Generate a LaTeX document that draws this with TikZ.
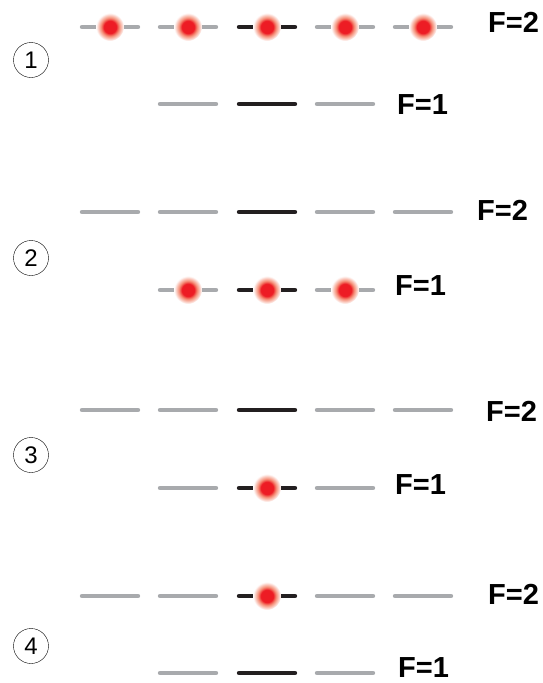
\documentclass[tikz,border=0pt]{standalone}
\usepackage{fontspec}
\setmainfont{Liberation Sans}
\usepackage{tikz}
\usetikzlibrary{positioning}

\definecolor{lvlgray}{RGB}{168,170,173}
\definecolor{lvlblack}{RGB}{35,31,32}
\definecolor{atomred}{RGB}{237,28,36}
\definecolor{glowred}{RGB}{242,110,80}
\pgfdeclareradialshading{atomglow}{\pgfpoint{0cm}{0cm}}{%
  color(0bp)=(atomred); color(11bp)=(atomred);
  color(16bp)=(glowred!80!white); color(25bp)=(white); color(50bp)=(white)}

\begin{document}
\begin{tikzpicture}[x=1pt, y=-1pt]
    \tikzstyle{lvl}=[line width=4.4pt, line cap=round, lvlgray]
    \tikzstyle{mid}=[lvl, lvlblack]
    \tikzstyle{atm}=[circle, inner sep=0pt, minimum size=28pt, shading=atomglow]
    \tikzstyle{num}=[draw, circle, thin, inner sep=0pt, minimum size=35pt, font=\fontsize{24}{24}\selectfont]
    \tikzstyle{flbl}=[anchor=west, inner sep=0pt, font=\fontsize{29}{29}\bfseries\selectfont]
    \useasboundingbox (0,0) rectangle (542,683);
    % level heights: F=2 / F=1 of each step
    \coordinate (up1) at (0,27);  \coordinate (lo1) at (0,104);
    \coordinate (up2) at (0,212); \coordinate (lo2) at (0,290);
    \coordinate (up3) at (0,410); \coordinate (lo3) at (0,488);
    \coordinate (up4) at (0,596); \coordinate (lo4) at (0,673);
    \foreach \s in {1,2,3,4}{
      % F=2 sublevels
      \foreach \x in {110,188,345,423}
        {\draw[lvl] (\x-28,0 |- up\s) -- (\x+28,0 |- up\s);}
      \draw[mid] (267-28,0 |- up\s) -- (267+28,0 |- up\s);
      % F=1 sublevels
      \foreach \x in {188,345}
        {\draw[lvl] (\x-28,0 |- lo\s) -- (\x+28,0 |- lo\s);}
      \draw[mid] (267-28,0 |- lo\s) -- (267+28,0 |- lo\s);
    }
    % atoms
    \foreach \x [count=\n] in {110,188,267,345,423}
      {\node[atm] (a1\n) at (\x,27) {};}
    \foreach \x [count=\n] in {188,267,345}
      {\node[atm] (a2\n) at (\x,290) {};}
    \node[atm] (a3) at (267,488) {};
    \node[atm] (a4) at (267,596) {};
    % step numbers
    \node[num] (n1) at (31,60) {1};
    \node[num] (n2) at (31,258) {2};
    \node[num] (n3) at (31,455) {3};
    \node[num] (n4) at (31,646) {4};
    % labels
    \node[flbl] (f21) at (488,22) {F=2};
    \node[flbl] (f11) at (397,105) {F=1};
    \node[flbl] (f22) at (477,210) {F=2};
    \node[flbl] (f12) at (395,286) {F=1};
    \node[flbl] (f23) at (486,411) {F=2};
    \node[flbl] (f13) at (395,485) {F=1};
    \node[flbl] (f24) at (488,594) {F=2};
    \node[flbl] (f14) at (398,668) {F=1};
\end{tikzpicture}
\end{document}
